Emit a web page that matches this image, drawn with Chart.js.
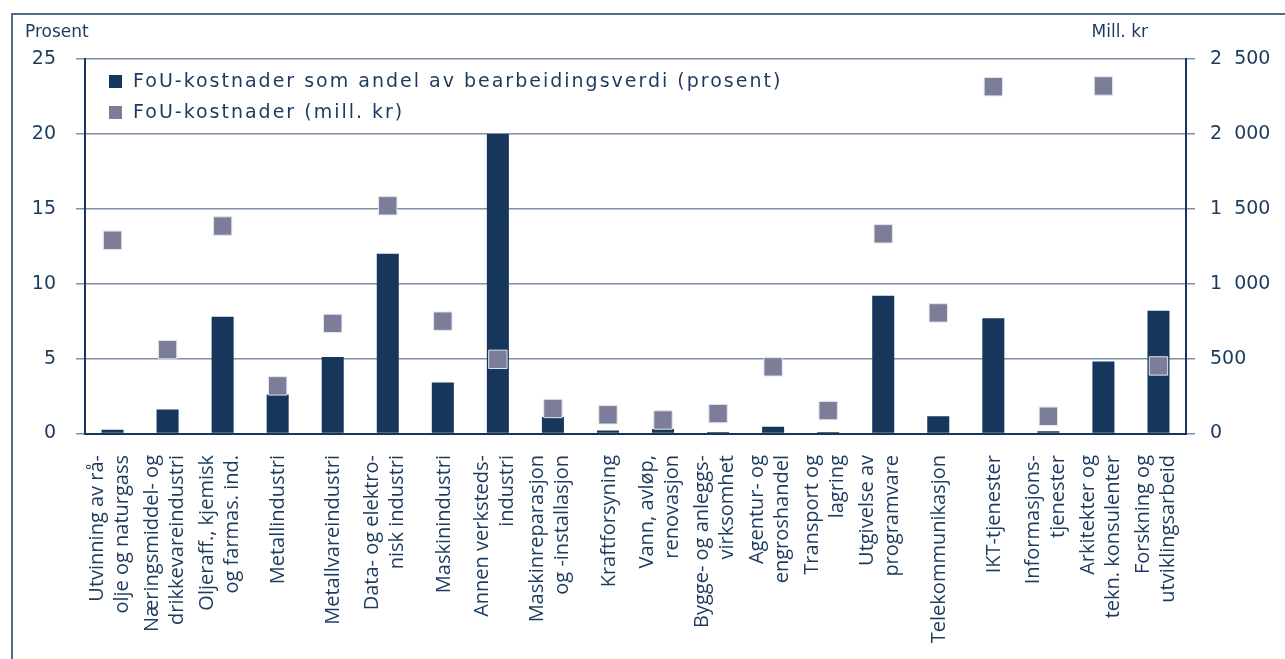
<!DOCTYPE html>
<html lang="no">
<head>
    <meta charset="UTF-8">
    <title>FoU-kostnader etter næring</title>
    <script src="https://cdn.jsdelivr.net/npm/chart.js"></script>
    <style>
        body {
            margin: 0;
            background: #fff;
            width: 1285px;
            height: 659px;
            overflow: hidden;
            position: relative;
            font-family: "DejaVu Sans", Verdana, sans-serif;
            color: #1c3a5e;
        }

        .ramme {
            position: absolute;
            left: 11px;
            top: 13px;
            width: 1400px;
            height: 800px;
            border: 2px solid #4f6a8c;
        }

        canvas {
            position: absolute;
            left: 0;
            top: 0;
        }

        .akse {
            position: absolute;
            top: 21px;
            font-size: 17px;
        }

        .legende {
            position: absolute;
            left: 109px;
            top: 70px;
            font-size: 19px;
            letter-spacing: 2px;
        }

        .legende div {
            height: 31px;
            line-height: 21px;
        }

        .legende span {
            display: inline-block;
            width: 13px;
            height: 13px;
            margin-right: 11px;
            vertical-align: -1px;
        }
    </style>
</head>
<body>
    <div class="ramme"></div>
    <canvas id="graf" width="1285" height="659"></canvas>
    <div class="akse" style="left:25px">Prosent</div>
    <div class="akse" style="right:137px">Mill. kr</div>
    <div class="legende">
        <div><span style="background:#17365c"></span>FoU-kostnader som andel av bearbeidingsverdi (prosent)</div>
        <div><span style="background:#7b7d99"></span>FoU-kostnader (mill. kr)</div>
    </div>

    <script>
        const naeringer = [
            ['Utvinning av rå-', 'olje og naturgass'],
            ['Næringsmiddel- og', 'drikkevareindustri'],
            ['Oljeraff., kjemisk', 'og farmas. ind.'],
            ['Metallindustri'],
            ['Metallvareindustri'],
            ['Data- og elektro-', 'nisk industri'],
            ['Maskinindustri'],
            ['Annen verksteds-', 'industri'],
            ['Maskinreparasjon', 'og -installasjon'],
            ['Kraftforsyning'],
            ['Vann, avløp,', 'renovasjon'],
            ['Bygge- og anleggs-', 'virksomhet'],
            ['Agentur- og', 'engroshandel'],
            ['Transport og', 'lagring'],
            ['Utgivelse av', 'programvare'],
            ['Telekommunikasjon'],
            ['IKT-tjenester'],
            ['Informasjons-', 'tjenester'],
            ['Arkitekter og', 'tekn. konsulenter'],
            ['Forskning og', 'utviklingsarbeid']
        ];

        // FoU-kostnader som andel av bearbeidingsverdi (prosent)
        const andelProsent = [0.25, 1.6, 7.8, 2.6, 5.1, 12.0, 3.4, 20.0, 1.1, 0.2,
                              0.3, 0.1, 0.45, 0.1, 9.2, 1.15, 7.7, 0.15, 4.8, 8.2];

        // FoU-kostnader (mill. kr)
        const kostnaderMill = [1290, 560, 1385, 318, 735, 1520, 750, 495, 167, 125,
                               90, 133, 445, 153, 1333, 805, 2315, 115, 2320, 451];

        const venstreTicks = [0, 5, 10, 15, 20, 25];
        const hoyreTicks = [0, 500, 1000, 1500, 2000, 2500];

        const morkBla = '#17365c';
        const gra = '#7b7d99';
        const gridFarge = '#7d90a8';
        const tekstFarge = '#1c3a5e';

        function medMellomrom(v) {
            return String(v).replace(/\B(?=(\d{3})+(?!\d))/g, '\u2007');
        }

        // kategorinavn skrives loddrett, sentrert om hver kategori
        const kategoriTekst = {
            id: 'kategoriTekst',
            afterDraw(chart) {
                const x = chart.scales.x;
                const c = chart.ctx;
                const linje = 25;
                c.save();
                c.fillStyle = tekstFarge;
                c.font = '20px "Open Sans", sans-serif';
                c.textAlign = 'right';
                c.textBaseline = 'middle';
                naeringer.forEach((linjer, i) => {
                    const px = x.getPixelForValue(i);
                    c.save();
                    c.translate(px, 455);
                    c.rotate(-Math.PI / 2);
                    linjer.forEach((t, j) => {
                        const off = (j - (linjer.length - 1) / 2) * linje - (linjer.length > 1 ? 3 : -1);
                        c.fillText(t, 0, off);
                    });
                    c.restore();
                });
                c.restore();
            }
        };

        const ctx = document.getElementById('graf').getContext('2d');
        new Chart(ctx, {
            type: 'bar',
            data: {
                labels: naeringer.map(l => l.join(' ')),
                datasets: [
                    {
                        type: 'line',
                        label: 'FoU-kostnader (mill. kr)',
                        data: kostnaderMill,
                        yAxisID: 'y2',
                        showLine: false,
                        pointStyle: 'rect',
                        pointRadius: 13,
                        pointHoverRadius: 13,
                        pointBackgroundColor: gra,
                        pointBorderColor: '#e4e6ee',
                        pointBorderWidth: 1,
                        order: 0
                    },
                    {
                        label: 'FoU-kostnader som andel av bearbeidingsverdi (prosent)',
                        data: andelProsent,
                        yAxisID: 'y',
                        backgroundColor: morkBla,
                        barPercentage: 0.4,
                        categoryPercentage: 1.0,
                        order: 1
                    }
                ]
            },
            options: {
                responsive: false,
                animation: false,
                layout: {
                    padding: { top: 59, left: 0, right: 0, bottom: 0 }
                },
                plugins: {
                    legend: { display: false },
                    tooltip: { enabled: false }
                },
                scales: {
                    x: {
                        afterFit: (scale) => { scale.height = 225.5; },
                        grid: { display: false },
                        border: { display: true, color: morkBla, width: 2 },
                        ticks: { display: false }
                    },
                    y: {
                        position: 'left',
                        min: 0,
                        max: 25,
                        afterFit: (scale) => { scale.width = 85; },
                        afterBuildTicks: (scale) => {
                            scale.ticks = venstreTicks.map(v => ({ value: v }));
                        },
                        grid: {
                            color: gridFarge,
                            lineWidth: 1.5,
                            tickLength: 9
                        },
                        border: { display: true, color: morkBla, width: 2 },
                        ticks: {
                            padding: 20,
                            color: tekstFarge,
                            font: { family: '"DejaVu Sans", sans-serif', size: 19 }
                        }
                    },
                    y2: {
                        position: 'right',
                        min: 0,
                        max: 2500,
                        afterFit: (scale) => { scale.width = 99; },
                        afterBuildTicks: (scale) => {
                            scale.ticks = hoyreTicks.map(v => ({ value: v }));
                        },
                        grid: {
                            drawOnChartArea: false,
                            color: gridFarge,
                            lineWidth: 1.5,
                            tickLength: 9
                        },
                        border: { display: true, color: morkBla, width: 2 },
                        ticks: {
                            padding: 15,
                            color: tekstFarge,
                            font: { family: '"DejaVu Sans", sans-serif', size: 19 },
                            callback: (v) => medMellomrom(v)
                        }
                    }
                }
            },
            plugins: [kategoriTekst]
        });
    </script>
</body>
</html>
